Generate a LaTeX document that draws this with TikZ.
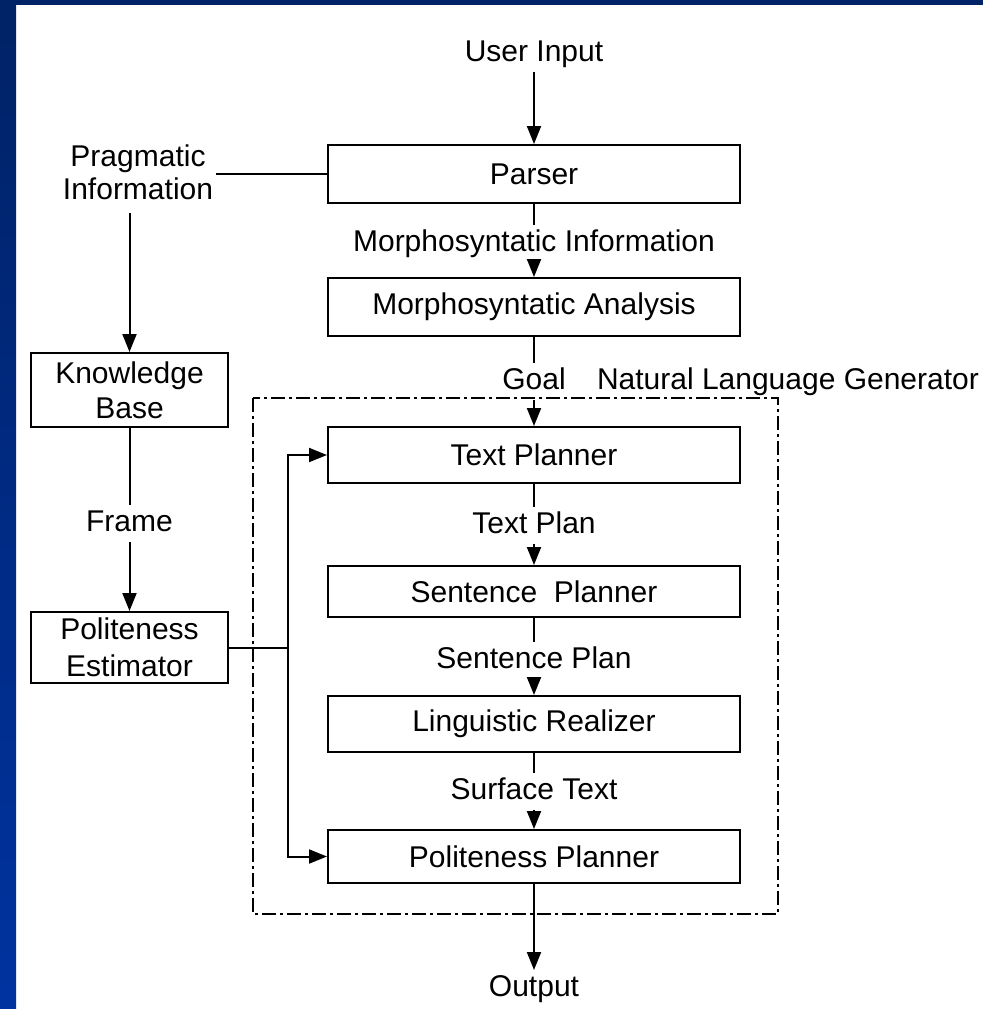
\documentclass[tikz,border=0pt]{standalone}
\usepackage{fontspec}
\setmainfont{Liberation Sans}
\usetikzlibrary{arrows.meta}
\definecolor{navy}{RGB}{0,34,102}
\definecolor{bandblue}{RGB}{0,51,160}
\begin{document}
\begin{tikzpicture}[x=1pt,y=-1pt,
  font=\fontsize{30}{33}\selectfont,
  box/.style={draw, line width=2pt, minimum width=412pt, inner sep=0pt},
  sidebox/.style={draw, line width=2pt, minimum width=197pt, inner sep=0pt, align=center},
  lbl/.style={inner sep=4pt, text height=21pt, text depth=6pt, anchor=base},
  arr/.style={-{Triangle[width=14pt,length=18pt]}},
  frm/.style={line width=2pt, dash pattern=on 14pt off 4pt on 3pt off 4pt},
  line width=2pt]
\useasboundingbox (0,0) rectangle (983,1009);
\fill[white] (0,0) rectangle (983,1009);
\fill[navy] (0,0) rectangle (983,5);
\shade[top color=navy, bottom color=bandblue] (0,0) rectangle (16,1009);

% main column
\node[lbl] (ui) at (534,61) {User Input};
\node[box, minimum height=58pt] (parser) at (534,174) {Parser};
\node[lbl] (mi) at (534,251) {Morphosyntatic Information};
\node[box, minimum height=58pt] (ma) at (534,307) {Morphosyntatic Analysis};
\node[lbl] (goal) at (534,389) {Goal};
\node[lbl, anchor=base west] (nlg) at (592,389) {Natural Language Generator};
\node[box, minimum height=56pt] (tp) at (534,455) {Text Planner};
\node[lbl] (tpl) at (534,533) {Text Plan};
\node[box, minimum height=51pt] (sp) at (534,591.5) {Sentence\ \ Planner};
\node[lbl] (spl) at (534,668) {Sentence Plan};
\node[box, minimum height=56pt] (lr) at (534,724) {Linguistic Realizer};
\node[lbl] (st) at (534,799) {Surface Text};
\node[box, minimum height=53pt] (pp) at (534,856.5) {Politeness Planner};
\node[lbl] (out) at (534,996) {Output};

% left column
\node[align=center, inner xsep=2pt, inner ysep=12pt] (prag) at (138,172) {Pragmatic\\Information};
\node[sidebox, minimum height=74pt] (kb) at (129.5,390) {Knowledge\\[2pt]Base};
\node[lbl] (frame) at (129.5,531) {Frame};
\node[sidebox, minimum height=71pt] (pe) at (129.5,647.5) {Politeness\\[4pt]Estimator};

% NLG frame
\draw[frm] (253,398) rectangle (778,914);

% connectors
\draw[arr] (ui) -- (parser);
\draw (parser) -- (mi);
\draw[arr] (mi) -- (ma);
\draw (ma) -- (goal);
\draw[arr] (goal) -- (tp);
\draw (tp) -- (tpl);
\draw[arr] (tpl) -- (sp);
\draw (sp) -- (spl);
\draw[arr] (spl) -- (lr);
\draw (lr) -- (st);
\draw[arr] (st) -- (pp);
\draw[arr] (pp) -- (out);

\draw (prag.east |- parser.west) -- (parser.west);
\draw[arr] (prag.south -| kb.north) -- (kb.north);
\draw (kb) -- (frame);
\draw[arr] (frame) -- (pe);
\coordinate (j) at (288,647.5);
\draw (pe.east) -- (j);
\draw[arr] (j) |- (tp.west);
\draw[arr] (j) |- (pp.west);
\end{tikzpicture}
\end{document}
